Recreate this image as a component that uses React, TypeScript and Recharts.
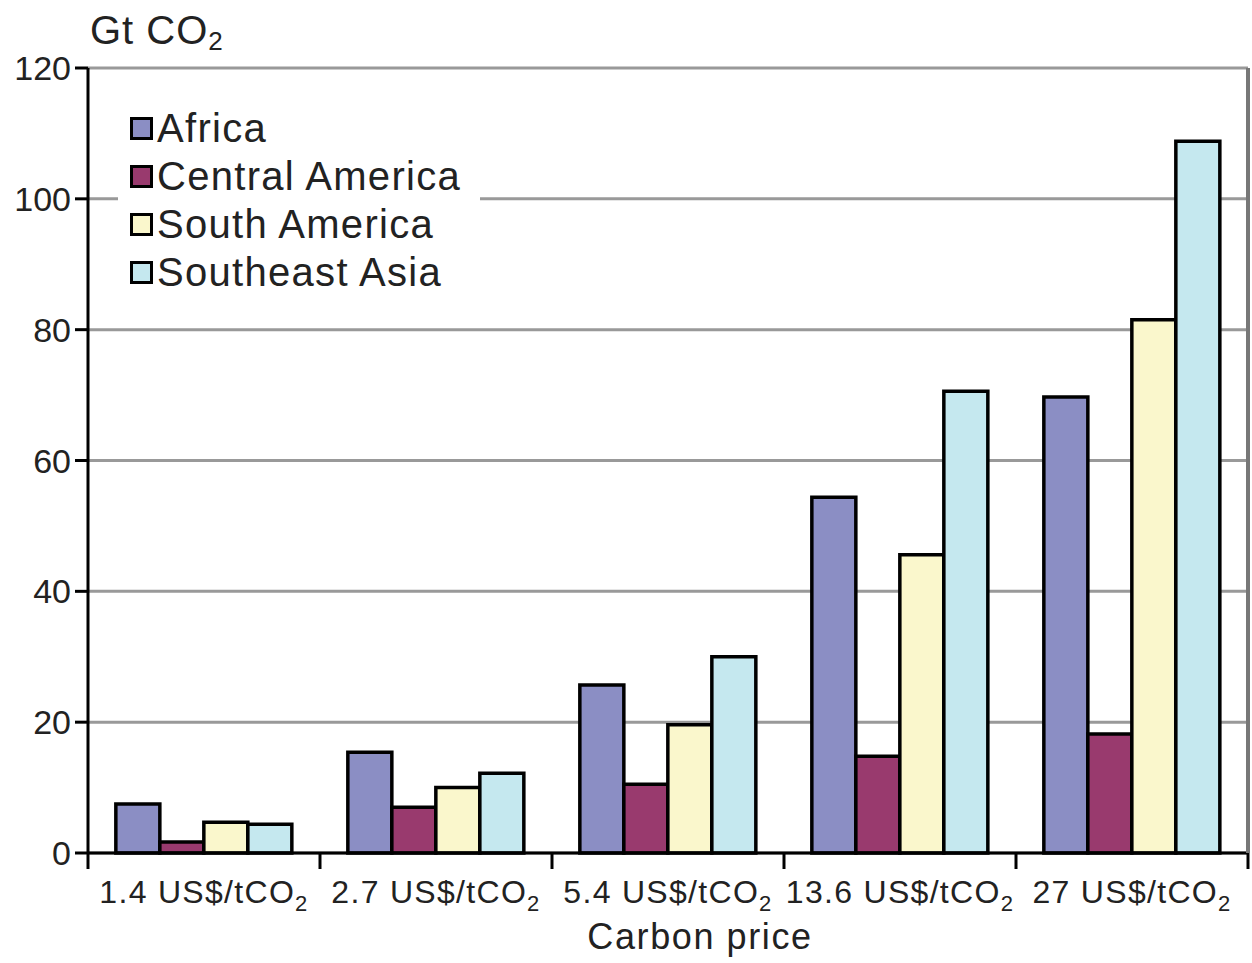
import React from 'react';
import { BarChart, Bar, XAxis, YAxis, CartesianGrid, Legend } from 'recharts';

const prices = ['1.4', '2.7', '5.4', '13.6', '27'];
const africa = [7.5, 15.4, 25.7, 54.4, 69.7];
const centralAmerica = [1.7, 7, 10.5, 14.8, 18.2];
const southAmerica = [4.7, 10, 19.6, 45.6, 81.5];
const southeastAsia = [4.4, 12.2, 30, 70.6, 108.8];
const yTicks = [0, 20, 40, 60, 80, 100, 120];

const series = [
  { key: 'africa', name: 'Africa', color: '#8B8EC4' },
  { key: 'centralAmerica', name: 'Central America', color: '#993A6E' },
  { key: 'southAmerica', name: 'South America', color: '#FAF7CC' },
  { key: 'southeastAsia', name: 'Southeast Asia', color: '#C5E8EF' },
];

const data = prices.map((p, i) => ({
  price: p,
  africa: africa[i],
  centralAmerica: centralAmerica[i],
  southAmerica: southAmerica[i],
  southeastAsia: southeastAsia[i],
}));

const font = '"Liberation Sans", Arial, sans-serif';

const PriceTick = (props: any) => {
  const { x, y, payload, index } = props;
  const half = payload.offset ?? 116;
  return (
    <g>
      <line x1={x - half} y1={y} x2={x - half} y2={y + 16} stroke="#000" strokeWidth={3} />
      {index === prices.length - 1 && (
        <line x1={x + half} y1={y} x2={x + half} y2={y + 16} stroke="#000" strokeWidth={3} />
      )}
      <text x={x} y={y + 50} textAnchor="middle" fontFamily={font} fontSize={32} fill="#222" letterSpacing={1.3}>
        {payload.value} US$/tCO
        <tspan dy={8} fontSize={22}>2</tspan>
      </text>
    </g>
  );
};

const LegendBox = () => (
  <div style={{ background: '#fff', padding: '6px 0 8px 12px', fontFamily: font, fontSize: 40, color: '#222' }}>
    {series.map((s) => (
      <div key={s.key} style={{ display: 'flex', alignItems: 'center', height: 48 }}>
        <span
          style={{
            display: 'inline-block',
            width: 17,
            height: 17,
            background: s.color,
            border: '3px solid #000',
            marginRight: 4,
          }}
        />
        <span style={{ letterSpacing: 1.3 }}>{s.name}</span>
      </div>
    ))}
  </div>
);

const App = () => {
  return (
    <div style={{ position: 'absolute', left: 0, top: 0, width: 1252, height: 963, background: '#fff' }}>
      <div style={{ position: 'absolute', left: 90, top: 8, fontFamily: font, fontSize: 40, color: '#222', letterSpacing: 1 }}>
        Gt CO<sub style={{ fontSize: 26, verticalAlign: -6 }}>2</sub>
      </div>
      <BarChart
        width={1252}
        height={963}
        data={data}
        margin={{ top: 68, right: 0, left: 0, bottom: 0 }}
        barGap={0}
        barCategoryGap="12%"
      >
        <CartesianGrid vertical={false} stroke="#999" strokeWidth={3} />
        <XAxis
          dataKey="price"
          height={110}
          tickSize={0}
          tickMargin={0}
          tickLine={false}
          axisLine={{ stroke: '#000', strokeWidth: 3 }}
          tick={<PriceTick />}
          interval={0}
          label={{ value: 'Carbon price', position: 'insideBottom', offset: 14, dx: 32, fontFamily: font, fontSize: 36, fill: '#222', letterSpacing: 1.6 }}
        />
        <YAxis
          width={88}
          domain={[0, 120]}
          ticks={yTicks}
          interval={0}
          tickSize={13}
          tickMargin={4}
          tickLine={{ stroke: '#000', strokeWidth: 3 }}
          axisLine={{ stroke: '#000', strokeWidth: 3 }}
          tick={{ fontFamily: font, fontSize: 34, fill: '#222' }}
        />
        <YAxis
          yAxisId="frame"
          orientation="right"
          width={4}
          domain={[0, 120]}
          tick={false}
          tickLine={false}
          axisLine={{ stroke: '#777', strokeWidth: 4 }}
        />
        <Legend
          layout="vertical"
          align="center"
          verticalAlign="middle"
          wrapperStyle={{ position: 'absolute', left: 118, top: 98, width: 362 }}
          content={<LegendBox />}
        />
        {series.map((s) => (
          <Bar
            key={s.key}
            dataKey={s.key}
            name={s.name}
            fill={s.color}
            stroke="#000"
            strokeWidth={3.5}
            isAnimationActive={false}
          />
        ))}
      </BarChart>
    </div>
  );
};

export default App;
